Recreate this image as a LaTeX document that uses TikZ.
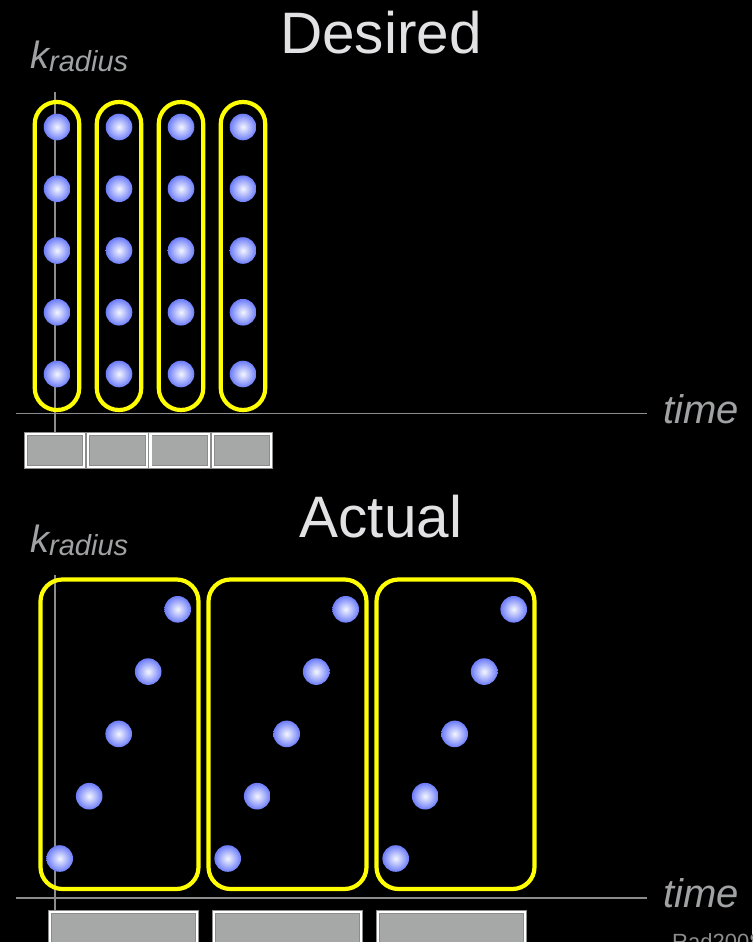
\documentclass[tikz,border=0pt]{standalone}
\usepackage{fontspec}
\setmainfont{Liberation Sans}
\definecolor{hl}{RGB}{255,255,0}
\definecolor{ballblue}{RGB}{108,124,248}
\definecolor{ballhi}{RGB}{244,246,255}
\definecolor{cellgray}{RGB}{165,168,166}
\definecolor{axisgray}{RGB}{140,140,140}
\definecolor{titlegray}{RGB}{226,226,228}
\definecolor{labgray}{RGB}{160,162,164}
\begin{document}
\begin{tikzpicture}[x=1pt,y=-1pt,
 ball/.style={circle,minimum size=26.6pt,inner sep=0pt,inner color=ballhi,outer color=ballblue},
 pill/.style={draw=hl,line width=4.2pt,rounded corners=22pt,minimum width=44.5pt,minimum height=308pt,inner sep=0pt},
 group/.style={draw=hl,line width=4.2pt,rounded corners=22pt,minimum width=158pt,minimum height=309.5pt,inner sep=0pt},
 cell/.style={fill=cellgray,draw=axisgray,line width=0.8pt,double=white,double distance=2.2pt,inner sep=0pt},
 axis/.style={draw=axisgray,line width=1.2pt},
 title/.style={text=titlegray,font=\fontsize{58.5}{58.5}\selectfont,anchor=base,inner sep=0pt},
 lab/.style={text=labgray,inner sep=0pt,anchor=base west}]
\fill[black] (0,0) rectangle (752,942);
\useasboundingbox (0,0) rectangle (752,942);
% ---------- Desired ----------
\node[title] (t1) at (381,54) {Desired};
\node[lab] (k1) at (30,68) {{\fontsize{38}{38}\selectfont\itshape k}\raisebox{-3pt}{\fontsize{29}{29}\selectfont\itshape radius}};
\coordinate (v1a) at (55,92);
\coordinate (v1b) at (55,432);
\coordinate (h1a) at (16,413.5);
\coordinate (h1b) at (647,413.5);
\draw[axis] (v1a) -- (v1b);
\draw[axis] (h1a) -- (h1b);
\node[lab,font=\fontsize{40}{40}\selectfont\itshape] (time1) at (663,423) {time};
\foreach \i in {0,1,2,3}{
  \node[pill] (p\i) at ({57+62*\i},256) {};
  \node[cell,minimum width=58.45pt,minimum height=33.2pt] (c\i) at ({55.125+62.25*\i},450.5) {};
  \foreach \j in {0,...,4}{
    \node[ball] (d\i-\j) at ({57+62*\i},{127+61.75*\j}) {};
  }
}
% ---------- Actual ----------
\node[title] (t2) at (381,537) {Actual};
\node[lab] (k2) at (30,552) {{\fontsize{38}{38}\selectfont\itshape k}\raisebox{-3pt}{\fontsize{29}{29}\selectfont\itshape radius}};
\coordinate (v2a) at (55,575);
\coordinate (v2b) at (55,910);
\coordinate (h2a) at (16,898);
\coordinate (h2b) at (647,898);
\draw[axis] (v2a) -- (v2b);
\draw[axis] (h2a) -- (h2b);
\node[lab,font=\fontsize{40}{40}\selectfont\itshape] (time2) at (663,907) {time};
\foreach \i in {0,1,2}{
  \node[group] (g\i) at ({119.5+168*\i},734.25) {};
  \node[cell,minimum width=147.2pt,minimum height=48pt] (b\i) at ({123.5+164*\i},936) {};
  \foreach \j in {0,...,4}{
    \node[ball] (a\i-\j) at ({177.7-29.5*\j+168*\i},{609.3+62.3*\j}) {};
  }
}
\node[lab,text=axisgray,font=\fontsize{22}{22}\selectfont] (src) at (672,949) {Rad2008};
\end{tikzpicture}
\end{document}
